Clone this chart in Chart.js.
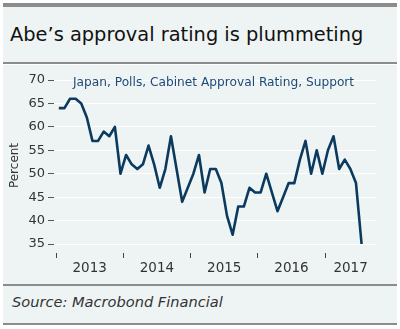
<!DOCTYPE html>
<html>
<head>
<meta charset="utf-8">
<script src="https://cdn.jsdelivr.net/npm/chart.js@4.4.0/dist/chart.umd.min.js"></script>
<style>
    body { margin: 0; background: #fff; width: 400px; height: 329px; position: relative; overflow: hidden; font-family: "DejaVu Sans", sans-serif; }
    .pnl { position: absolute; left: 3px; width: 394px; background: #eef4f4; }
    .rule { position: absolute; left: 3px; width: 394px; background: #8c8c8c; }
    #title { position: absolute; left: 10px; top: 23px; font-size: 19.4px; color: #111; white-space: nowrap; }
    #series { position: absolute; left: 73px; top: 75px; font-size: 12.2px; color: #1d4a78; white-space: nowrap; }
    #source { position: absolute; left: 12px; top: 293px; font-size: 14.6px; font-style: italic; color: #333; white-space: nowrap; }
    #wrap { position: absolute; left: 3px; top: 66px; width: 394px; height: 217px; }
</style>
</head>
<body>
<div class="rule" style="top:3px;height:4px"></div>
<div class="pnl" style="top:7px;height:55px"></div>
<div class="rule" style="top:62px;height:2px"></div>
<div class="pnl" style="top:65px;height:219px"></div>
<div class="rule" style="top:284px;height:2px"></div>
<div class="pnl" style="top:286px;height:37px"></div>
<div class="rule" style="top:323px;height:2px"></div>
<div id="title">Abe’s approval rating is plummeting</div>
<div id="wrap"><canvas id="myChart" width="394" height="217"></canvas></div>
<div id="series">Japan, Polls, Cabinet Approval Rating, Support</div>
<div id="source">Source: Macrobond Financial</div>
<script>
const years = [2013, 2014, 2015, 2016, 2017]
const yTicks = [35, 40, 45, 50, 55, 60, 65, 70]
// monthly readings, Jan 2013 .. Jul 2017
const approval = [64, 64, 66, 66, 65, 62, 57, 57, 59, 58, 60, 50,
                  54, 52, 51, 52, 56, 52, 47, 51, 58, 51, 44, 47,
                  50, 54, 46, 51, 51, 48, 41, 37, 43, 43, 47, 46,
                  46, 50, 46, 42, 45, 48, 48, 53, 57, 50, 55, 50,
                  55, 58, 51, 53, 51, 48, 35]
const firstYear = 2013

const xMin = 2012.97
const xMax = 2017.756

const points = approval.map((v, i) => ({ x: firstYear + (i + 0.5) / 12, y: v }))

// tick marks at year starts, labels centred in each (visible) year
function yearTicks(scale) {
    let t = []
    for (let i = 0; i < years.length; i++) {
        t.push({ value: years[i] })
        let end = Math.min(years[i] + 1, xMax)
        t.push({ value: (years[i] + end) / 2 })
    }
    t.sort((a, b) => a.value - b.value)
    scale.ticks = t
}

const ctx = document.getElementById('myChart')

new Chart(ctx, {
    type: 'line',
    data: {
        datasets: [{
            label: 'Japan, Polls, Cabinet Approval Rating, Support',
            data: points,
            borderColor: '#0b3a5e',
            borderWidth: 2.6,
            pointRadius: 0,
            tension: 0,
            borderJoinStyle: 'round'
        }]
    },
    options: {
        responsive: false,
        animation: false,
        devicePixelRatio: 1,
        layout: { padding: { top: 12, right: 21, left: 0, bottom: 0 } },
        plugins: { legend: { display: false }, tooltip: { enabled: false } },
        scales: {
            x: {
                type: 'linear',
                min: xMin,
                max: xMax,
                afterBuildTicks: yearTicks,
                afterFit: (s) => { s.height = 30 },
                border: { display: false },
                grid: {
                    drawOnChartArea: false,
                    tickLength: 5,
                    tickColor: (c) => Number.isInteger(c.tick && c.tick.value) ? '#444' : 'rgba(0,0,0,0)'
                },
                ticks: {
                    autoSkip: false,
                    maxRotation: 0,
                    padding: 2,
                    color: '#333',
                    font: { family: 'DejaVu Sans', size: 13.5 },
                    callback: (v) => Number.isInteger(v) ? '' : String(Math.floor(v))
                }
            },
            y: {
                min: 33.08,
                max: 70.43,
                afterBuildTicks: (s) => { s.ticks = yTicks.map(v => ({ value: v })) },
                afterFit: (s) => { s.width = 51 },
                border: { display: false },
                grid: { color: '#ffffff', lineWidth: 1, tickColor: '#555', tickLength: 6 },
                ticks: {
                    padding: 3,
                    color: '#333',
                    font: { family: 'DejaVu Sans', size: 13 }
                },
                title: {
                    display: true,
                    text: 'Percent',
                    color: '#333',
                    font: { family: 'DejaVu Sans', size: 12 },
                    padding: { top: 5, bottom: 0 }
                }
            }
        }
    }
})
</script>
</body>
</html>
